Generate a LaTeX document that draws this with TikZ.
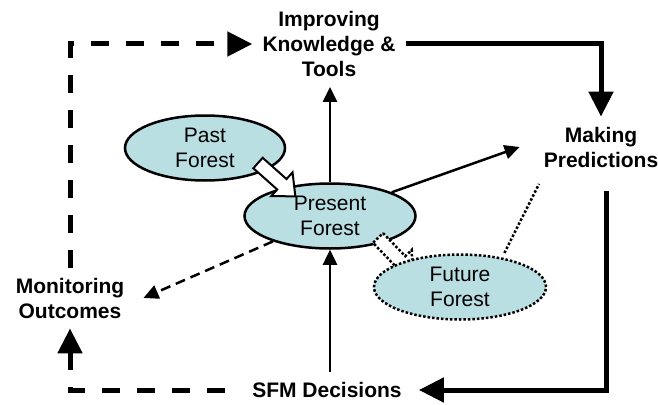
\documentclass[tikz,border=0pt]{standalone}
\usepackage{fontspec}
\setmainfont{Liberation Sans}
\usetikzlibrary{arrows.meta,shapes.geometric}
\definecolor{forestfill}{RGB}{186,223,227}
\tikzset{
  forestnode/.style={ellipse,draw,line width=2.5pt,fill=forestfill,inner sep=0pt,align=center,font=\fontsize{21}{25}\selectfont},
  stage/.style={align=center,inner sep=10pt,font=\fontsize{21}{25}\selectfont\bfseries},
  bigarrow/.style={line width=5pt,-{Triangle[length=25pt,width=24pt]}},
  bigdash/.style={bigarrow,dash pattern=on 18pt off 17pt},
  thinarrow/.style={line width=2.5pt,-{Triangle[length=15pt,width=14pt]}},
  dottedline/.style={line width=2.5pt,dash pattern=on 2.5pt off 2pt},
  pics/blockarr/.style={code={\path[pic actions] (0,-7) -- (32,-7) -- (32,-16) -- (50,0) -- (32,16) -- (32,7) -- (0,7) -- cycle;}}
}
\begin{document}
\begin{tikzpicture}[x=1pt,y=-1pt]
\useasboundingbox (0,0) rectangle (658,404);
\node[forestnode,minimum width=160pt,minimum height=65pt] (past) at (205,148) {Past\\Forest};
\node[forestnode,minimum width=171pt,minimum height=65pt] (present) at (330,216) {Present\\Forest};
\pic[draw,fill=white,line width=2pt,rotate=-41.7] at (258,163) {blockarr};
\pic[draw,fill=white,dottedline,rotate=-46] at (378,238) {blockarr};
\node[forestnode,dottedline,minimum width=172pt,minimum height=65pt] (future) at (460,287) {Future\\Forest};
\node[stage] (imp) at (329,44) {Improving\\Knowledge \&\\Tools};
\node[stage] (pred) at (601,147) {Making\\Predictions};
\node[stage] (mon) at (70,298) {Monitoring\\Outcomes};
\node[stage] (sfm) at (327,390) {SFM Decisions};
\coordinate (predfoot) at (539,184);
\draw[bigdash] (mon.north) |- (imp.west);
\draw[bigarrow] (imp.east) -| (pred.north);
\draw[bigarrow,shorten <=14pt,shorten >=7pt] ([xshift=5pt]pred.south) |- (sfm.east);
\draw[bigdash,shorten <=17pt] (sfm.west) -| (mon.south);
\draw[thinarrow] (present.north) -- (present.north |- imp.south);
\draw[thinarrow] (present.21) -- ([xshift=-14pt]pred.west);
\draw[thinarrow] (present.south |- sfm.north) -- (present.south);
\draw[thinarrow,dash pattern=on 10pt off 6pt] (present.204) -- ([xshift=9pt]mon.east);
\draw[dottedline,shorten <=5pt] (future.35) -- (predfoot);
\end{tikzpicture}
\end{document}
